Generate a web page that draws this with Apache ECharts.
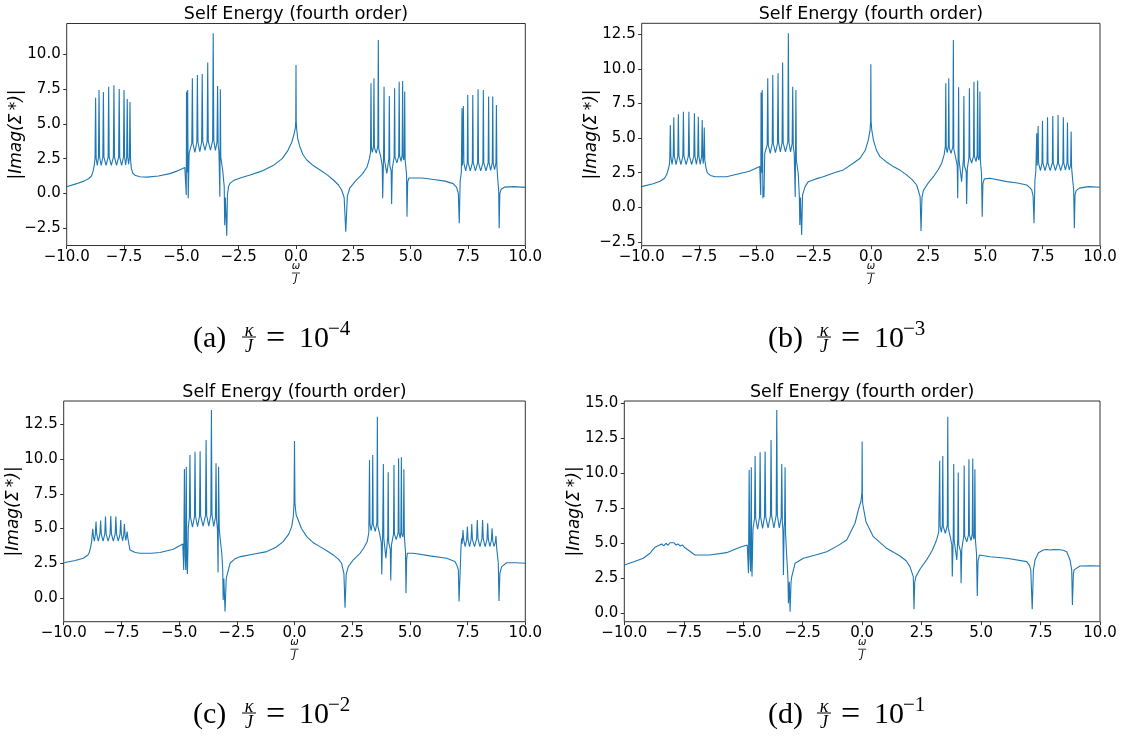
<!DOCTYPE html>
<html>
<head>
<meta charset="utf-8">
<script src="https://cdn.jsdelivr.net/npm/echarts@6/dist/echarts.min.js"></script>
<style>
html, body { margin: 0; padding: 0; background: #fff; }
#main { width: 1128px; height: 736px; }
</style>
</head>
<body>
<div id="main"></div>
<script>
// 四个子图共用的刻度
var xTicks = [-10, -7.5, -5, -2.5, 0, 2.5, 5, 7.5, 10];
var yTicksA = [-2.5, 0, 2.5, 5, 7.5, 10];
var yTicksB = [-2.5, 0, 2.5, 5, 7.5, 10, 12.5];
var yTicksC = [0, 2.5, 5, 7.5, 10, 12.5];
var yTicksD = [0, 2.5, 5, 7.5, 10, 12.5, 15];
var captionLetters = ['(a)', '(b)', '(c)', '(d)'];
var captionExps = ['\u22124', '\u22123', '\u22122', '\u22121'];
var titleText = 'Self Energy (fourth order)';

// (a) kappa/J = 1e-4 : [omega/J, |Imag(Sigma*)|]
var pointsA = [
    [-10, 0.48], [-9.6, 0.68], [-9.25, 0.88], [-9.05, 1.05], [-8.92, 1.25], [-8.85, 1.6], [-8.8, 2.0],
    [-8.765, 2.5], [-8.74, 6.89], [-8.715, 2.5], [-8.665, 2.02], [-8.615, 2.6], [-8.59, 7.45], [-8.565, 2.6],
    [-8.495, 2.02], [-8.425, 2.6], [-8.4, 7.3], [-8.375, 2.6], [-8.285, 2.02], [-8.195, 2.6], [-8.17, 7.69],
    [-8.145, 2.6], [-8.055, 2.02], [-7.965, 2.6], [-7.94, 7.79], [-7.915, 2.6], [-7.825, 2.02], [-7.735, 2.6],
    [-7.71, 7.52], [-7.685, 2.6], [-7.605, 2.02], [-7.525, 2.6], [-7.5, 7.45], [-7.475, 2.6], [-7.43, 2.05],
    [-7.385, 2.6], [-7.36, 6.8], [-7.335, 2.6], [-7.3, 2.1], [-7.265, 2.6], [-7.24, 6.58], [-7.215, 2.4],
    [-7.18, 1.8], [-7.12, 1.45], [-7.0, 1.28], [-6.8, 1.2], [-6.5, 1.17], [-6.0, 1.25], [-5.5, 1.42],
    [-5.2, 1.6], [-4.85, 1.87],
    [-4.8, 1.92], [-4.785, -0.12], [-4.775, 7.33], [-4.745, 1.5], [-4.725, 7.45], [-4.7, -0.36], [-4.66, 2.9],
    [-4.545, 3.6], [-4.52, 8.29], [-4.495, 3.6], [-4.41, 2.95], [-4.325, 3.7], [-4.3, 8.53], [-4.275, 3.7],
    [-4.195, 3.0], [-4.115, 3.7], [-4.09, 8.6], [-4.065, 3.75], [-3.97, 3.1], [-3.875, 3.75], [-3.85, 9.42],
    [-3.825, 3.75], [-3.73, 3.12], [-3.635, 3.8], [-3.61, 11.54], [-3.585, 3.8], [-3.515, 3.1], [-3.445, 3.7],
    [-3.42, 7.74], [-3.395, 3.5], [-3.36, 3.0], [-3.32, -0.24], [-3.3, 7.5], [-3.28, 2.6],
    [-3.2, 1.7], [-3.13, 0.48], [-3.11, -2.3], [-3.08, -0.3], [-3.02, -3.06], [-2.99, -0.1], [-2.94, 0.5],
    [-2.88, 0.72], [-2.7, 0.95], [-2.4, 1.12], [-2.0, 1.32], [-1.5, 1.6], [-1.0, 2.0], [-0.6, 2.5],
    [-0.35, 3.1], [-0.18, 3.7], [-0.08, 4.3], [-0.03, 4.7], [-0.01, 5.2], [0.0, 9.25], [0.01, 5.2],
    [0.03, 4.6], [0.08, 3.9], [0.17, 3.36], [0.3, 2.8], [0.47, 2.4], [0.75, 2.0], [1.05, 1.68], [1.35, 1.35],
    [1.63, 0.96], [1.85, 0.6], [1.99, 0.24], [2.1, -0.3], [2.17, -2.77], [2.24, -0.2], [2.35, 0.4],
    [2.6, 0.9], [2.9, 1.4], [3.1, 1.9], [3.2, 2.5], [3.25, 2.95],
    [3.27, 7.93], [3.29, 3.3], [3.33, 2.95], [3.38, 3.4], [3.4, 8.29], [3.42, 3.3], [3.5, 2.9], [3.57, 3.4],
    [3.59, 11.05], [3.61, 3.2], [3.7, 2.6], [3.76, 2.0], [3.78, -0.36], [3.82, 2.8], [3.84, 7.69], [3.86, 2.4],
    [3.96, 1.44], [4.05, 2.5], [4.07, 7.02], [4.09, 2.0], [4.15, 1.6], [4.17, -0.77], [4.2, 1.8], [4.28, 2.6],
    [4.3, 7.57], [4.32, 2.6], [4.4, 2.2], [4.48, 2.7], [4.5, 8.05], [4.52, 2.7], [4.58, 2.3], [4.63, 2.8],
    [4.65, 8.1], [4.67, 2.6], [4.7, 2.4], [4.72, 2.7], [4.74, 7.33], [4.76, 2.4], [4.82, 1.4], [4.84, -1.69],
    [4.87, 0.8], [4.92, 1.1], [5.0, 1.18],
    [5.5, 1.1], [6.0, 1.0], [6.5, 0.88], [6.85, 0.7], [7.0, 0.45], [7.08, 0.0], [7.12, -2.16], [7.16, 0.9],
    [7.21, 1.5],
    [7.24, 6.13], [7.26, 2.0], [7.28, 2.0], [7.3, 6.3], [7.32, 2.2], [7.4, 1.62], [7.47, 2.2], [7.49, 7.09],
    [7.51, 2.2], [7.6, 1.62], [7.69, 2.2], [7.71, 7.09], [7.73, 2.2], [7.825, 1.62], [7.92, 2.2], [7.94, 7.5],
    [7.96, 2.2], [8.055, 1.62], [8.15, 2.2], [8.17, 7.45], [8.19, 2.2], [8.285, 1.62], [8.38, 2.2], [8.4, 6.97],
    [8.42, 2.2], [8.49, 1.65], [8.56, 2.2], [8.58, 6.97], [8.6, 2.2], [8.66, 1.7], [8.72, 2.2], [8.74, 6.37],
    [8.76, 2.0], [8.8, 1.0], [8.84, 0.2], [8.86, -2.52], [8.89, 0.0], [8.95, 0.3], [9.1, 0.45], [9.5, 0.48],
    [10, 0.43]
];

// (b) kappa/J = 1e-3
var pointsB = [
    [-10, 1.49], [-9.5, 1.7], [-9.2, 1.88], [-9.0, 2.1], [-8.9, 2.4], [-8.83, 2.8], [-8.79, 3.1],
    [-8.775, 3.5], [-8.75, 5.95], [-8.725, 3.6], [-8.675, 3.1], [-8.625, 3.7], [-8.6, 6.5], [-8.575, 3.7],
    [-8.5, 3.08], [-8.425, 3.7], [-8.4, 6.72], [-8.375, 3.7], [-8.29, 3.08], [-8.205, 3.7], [-8.18, 6.9],
    [-8.155, 3.7], [-8.06, 3.08], [-7.965, 3.7], [-7.94, 6.9], [-7.915, 3.7], [-7.82, 3.08], [-7.725, 3.7],
    [-7.7, 6.8], [-7.675, 3.7], [-7.615, 3.1], [-7.555, 3.7], [-7.53, 6.55], [-7.505, 3.7], [-7.445, 3.1],
    [-7.385, 3.7], [-7.36, 6.31], [-7.335, 3.6], [-7.315, 3.15], [-7.295, 3.6], [-7.27, 5.76], [-7.245, 3.4],
    [-7.2, 2.9], [-7.14, 2.5], [-7.0, 2.3], [-6.8, 2.2], [-6.3, 2.2], [-5.8, 2.4], [-5.3, 2.6], [-4.85, 2.94],
    [-4.82, 2.98], [-4.805, 0.89], [-4.79, 8.29], [-4.765, 2.5], [-4.74, 8.48], [-4.71, 0.65], [-4.685, 1.5],
    [-4.665, 0.74], [-4.63, 3.9],
    [-4.525, 4.5], [-4.5, 9.33], [-4.475, 4.5], [-4.39, 3.9], [-4.305, 4.6], [-4.28, 9.57], [-4.255, 4.6],
    [-4.165, 3.95], [-4.075, 4.6], [-4.05, 9.69], [-4.025, 4.65], [-3.95, 4.0], [-3.875, 4.65], [-3.85, 10.46],
    [-3.825, 4.65], [-3.725, 4.0], [-3.625, 4.7], [-3.6, 12.58], [-3.575, 4.7], [-3.505, 4.0], [-3.435, 4.6],
    [-3.41, 8.72], [-3.385, 4.4], [-3.345, 3.9], [-3.3, 0.74], [-3.27, 8.48], [-3.25, 3.4],
    [-3.17, 2.46], [-3.12, 0.77], [-3.1, -1.28], [-3.07, 0.7], [-3.02, -2.0], [-2.98, 0.9], [-2.87, 1.49],
    [-2.73, 1.85], [-2.4, 2.05], [-2.08, 2.21], [-1.6, 2.5], [-1.2, 2.7], [-0.77, 3.18], [-0.47, 3.54],
    [-0.25, 4.1], [-0.12, 4.8], [-0.04, 5.5], [-0.01, 6.2], [0, 10.34], [0.01, 6.2], [0.04, 5.6], [0.11, 4.87],
    [0.25, 4.1], [0.4, 3.66], [0.7, 3.25], [0.98, 2.94], [1.3, 2.65], [1.56, 2.34], [1.8, 2.0], [2.0, 1.61],
    [2.15, 0.77], [2.19, -1.71], [2.23, 0.7], [2.29, 1.2], [2.5, 1.75], [2.73, 2.21], [2.95, 2.75],
    [3.09, 3.18], [3.2, 3.8], [3.25, 4.38],
    [3.27, 8.96], [3.29, 4.3], [3.335, 3.95], [3.38, 4.4], [3.4, 9.33], [3.42, 4.3], [3.5, 3.9], [3.58, 4.4],
    [3.6, 12.09], [3.62, 4.2], [3.7, 3.6], [3.77, 3.0], [3.79, 0.65], [3.81, 3.8], [3.83, 8.67], [3.85, 3.4],
    [3.96, 1.85], [4.04, 3.5], [4.06, 8.05], [4.08, 3.0], [4.16, 2.6], [4.18, 0.24], [4.21, 2.8], [4.28, 3.6],
    [4.3, 8.6], [4.32, 3.6], [4.4, 3.2], [4.48, 3.7], [4.5, 9.08], [4.52, 3.7], [4.59, 3.3], [4.64, 3.8],
    [4.66, 9.16], [4.68, 3.6], [4.71, 3.4], [4.74, 3.7], [4.76, 8.36], [4.78, 3.4], [4.83, 2.4], [4.86, -0.68],
    [4.89, 1.7], [4.95, 2.05], [5.2, 2.1], [5.93, 1.85], [6.4, 1.75], [6.8, 1.61], [6.95, 1.4], [7.02, 1.25],
    [7.08, 0.8], [7.12, -1.16], [7.16, 1.97], [7.2, 2.6],
    [7.24, 5.35], [7.26, 3.0], [7.28, 3.0], [7.3, 5.88], [7.32, 3.2], [7.4, 2.65], [7.47, 3.2], [7.49, 6.26],
    [7.51, 3.2], [7.6, 2.65], [7.69, 3.2], [7.71, 6.51], [7.73, 3.2], [7.825, 2.65], [7.92, 3.2], [7.94, 6.6],
    [7.96, 3.2], [8.055, 2.65], [8.15, 3.2], [8.17, 6.67], [8.19, 3.2], [8.285, 2.65], [8.38, 3.2], [8.4, 6.5],
    [8.42, 3.2], [8.49, 2.68], [8.56, 3.2], [8.58, 6.12], [8.6, 3.2], [8.66, 2.7], [8.72, 3.1], [8.74, 5.47],
    [8.76, 2.9], [8.8, 2.1], [8.85, 1.3], [8.88, -1.52], [8.91, 0.9], [8.96, 1.2], [9.1, 1.38], [9.5, 1.49],
    [10, 1.45]
];

// (c) kappa/J = 1e-2
var pointsC = [
    [-10, 2.54], [-9.5, 2.7], [-9.15, 2.86], [-8.95, 3.1], [-8.89, 3.27], [-8.83, 3.7], [-8.79, 4.06],
    [-8.77, 4.5], [-8.74, 4.99], [-8.71, 4.4], [-8.67, 4.1], [-8.63, 4.6], [-8.6, 5.5], [-8.57, 4.6],
    [-8.5, 4.1], [-8.43, 4.6], [-8.4, 5.57], [-8.37, 4.6], [-8.295, 4.1], [-8.22, 4.6], [-8.19, 5.86],
    [-8.16, 4.6], [-8.075, 4.1], [-7.99, 4.6], [-7.96, 5.9], [-7.93, 4.6], [-7.85, 4.1], [-7.77, 4.6],
    [-7.74, 5.86], [-7.71, 4.6], [-7.635, 4.1], [-7.56, 4.6], [-7.53, 5.62], [-7.5, 4.6], [-7.45, 4.12],
    [-7.4, 4.55], [-7.37, 5.33], [-7.34, 4.5], [-7.31, 4.15], [-7.28, 4.45], [-7.25, 4.78], [-7.22, 4.3],
    [-7.13, 3.46], [-6.9, 3.28], [-6.69, 3.22], [-6.2, 3.22], [-5.83, 3.27], [-5.25, 3.51], [-4.84, 3.89],
    [-4.81, 3.9], [-4.8, 2.02], [-4.77, 9.29], [-4.74, 3.0], [-4.71, 2.02], [-4.69, 9.46], [-4.665, 3.0],
    [-4.64, 1.73], [-4.6, 5.1],
    [-4.555, 5.8], [-4.53, 10.3], [-4.505, 5.8], [-4.42, 5.1], [-4.335, 5.85], [-4.31, 10.54], [-4.285, 5.85],
    [-4.2, 5.14], [-4.115, 5.9], [-4.09, 10.57], [-4.065, 5.9], [-3.96, 5.18], [-3.855, 5.95], [-3.83, 11.38],
    [-3.805, 5.95], [-3.715, 5.18], [-3.625, 6.0], [-3.6, 13.54], [-3.575, 6.0], [-3.5, 5.15], [-3.425, 5.8],
    [-3.4, 9.7], [-3.375, 5.6], [-3.34, 5.0], [-3.31, 1.83], [-3.29, 9.46], [-3.26, 5.0],
    [-3.23, 4.42], [-3.15, 3.2], [-3.11, 2.02], [-3.09, -0.14], [-3.06, 1.4], [-3.01, -0.98], [-2.96, 1.3],
    [-2.94, 1.54], [-2.79, 2.5], [-2.6, 2.8], [-2.34, 2.98], [-1.8, 3.15], [-1.2, 3.34], [-0.8, 3.65],
    [-0.49, 4.06], [-0.25, 4.6], [-0.12, 5.14], [-0.05, 5.9], [-0.02, 6.82], [0, 11.31], [0.02, 6.82],
    [0.07, 6.0], [0.16, 5.62], [0.3, 5.0], [0.53, 4.42], [0.8, 4.0], [1.1, 3.7], [1.4, 3.4], [1.68, 3.1],
    [1.9, 2.8], [2.04, 2.5], [2.14, 1.78], [2.19, -0.7], [2.24, 1.7], [2.33, 2.26], [2.55, 2.75], [2.84, 3.22],
    [3.0, 3.6], [3.15, 4.06], [3.22, 4.7],
    [3.25, 9.94], [3.27, 5.3], [3.32, 4.85], [3.37, 5.4], [3.39, 10.3], [3.41, 5.3], [3.5, 4.8], [3.57, 5.4],
    [3.59, 13.06], [3.61, 5.2], [3.69, 4.6], [3.76, 4.0], [3.78, 1.7], [3.82, 4.6], [3.85, 9.65], [3.87, 4.3],
    [3.96, 2.86], [4.04, 4.4], [4.06, 9.05], [4.08, 4.0], [4.15, 3.5], [4.17, 1.25], [4.2, 3.8], [4.29, 4.6],
    [4.31, 9.58], [4.33, 4.6], [4.41, 4.2], [4.49, 4.7], [4.51, 10.06], [4.53, 4.7], [4.58, 4.3], [4.61, 4.8],
    [4.63, 10.13], [4.65, 4.6], [4.69, 4.4], [4.72, 4.7], [4.74, 9.27], [4.76, 4.4], [4.81, 3.3], [4.83, 0.34],
    [4.86, 2.8], [4.89, 3.22], [5.15, 3.22], [5.87, 3.03], [6.59, 2.86], [6.95, 2.62], [7.05, 2.3], [7.1, 2.02],
    [7.13, -0.26], [7.18, 2.02], [7.21, 3.5],
    [7.24, 4.3], [7.265, 3.9], [7.3, 4.9], [7.33, 4.2], [7.395, 3.7], [7.46, 4.2], [7.49, 5.14], [7.52, 4.2],
    [7.585, 3.7], [7.65, 4.2], [7.68, 5.33], [7.71, 4.2], [7.8, 3.7], [7.89, 4.25], [7.92, 5.62], [7.95, 4.25],
    [8.035, 3.7], [8.12, 4.25], [8.15, 5.62], [8.18, 4.25], [8.26, 3.7], [8.34, 4.2], [8.37, 5.38], [8.4, 4.2],
    [8.465, 3.72], [8.53, 4.15], [8.56, 5.02], [8.59, 4.1], [8.645, 3.72], [8.7, 4.0], [8.73, 4.47], [8.76, 3.6],
    [8.8, 3.0], [8.83, 2.5], [8.86, -0.22], [8.9, 1.8], [8.98, 2.26], [9.19, 2.54], [9.6, 2.54], [10, 2.5]
];

// (d) kappa/J = 1e-1
var pointsD = [
    [-10, 3.45], [-9.6, 3.68], [-9.2, 3.93], [-8.92, 4.29], [-8.8, 4.55], [-8.71, 4.71], [-8.6, 4.8],
    [-8.52, 4.75], [-8.43, 4.95], [-8.34, 4.82], [-8.25, 5.0], [-8.16, 4.86], [-8.08, 5.04], [-8.0, 4.9],
    [-7.92, 5.04], [-7.83, 4.88], [-7.74, 4.95], [-7.65, 4.8], [-7.55, 4.88], [-7.48, 4.72], [-7.41, 4.71],
    [-7.3, 4.5], [-7.24, 4.4], [-7.03, 4.16], [-6.4, 4.16], [-5.7, 4.33], [-5.14, 4.71], [-4.83, 4.88],
    [-4.8, 4.9], [-4.78, 2.86], [-4.75, 10.24], [-4.72, 4.0], [-4.69, 2.98], [-4.66, 10.43], [-4.645, 4.0],
    [-4.63, 2.62], [-4.59, 6.0],
    [-4.525, 6.8], [-4.5, 11.24], [-4.475, 6.8], [-4.395, 6.0], [-4.315, 6.85], [-4.29, 11.5], [-4.265, 6.85],
    [-4.185, 6.07], [-4.105, 6.9], [-4.08, 11.55], [-4.055, 6.9], [-3.955, 6.1], [-3.855, 6.95], [-3.83, 12.38],
    [-3.805, 6.95], [-3.71, 6.1], [-3.615, 7.0], [-3.59, 14.52], [-3.565, 7.0], [-3.485, 6.1], [-3.405, 6.8],
    [-3.38, 10.66], [-3.355, 6.5], [-3.33, 5.9], [-3.31, 2.74], [-3.28, 6.2], [-3.26, 6.5], [-3.24, 10.43],
    [-3.22, 5.7],
    [-3.17, 4.04], [-3.12, 2.5], [-3.1, 0.71], [-3.06, 2.26], [-3.03, 0.11], [-2.99, 2.2], [-2.96, 2.61],
    [-2.82, 3.57], [-2.47, 3.93], [-2.0, 4.15], [-1.49, 4.4], [-1.0, 4.85], [-0.65, 5.24], [-0.3, 6.43],
    [-0.16, 7.38], [-0.05, 8.0], [-0.01, 8.6], [0, 12.26], [0.01, 8.5], [0.02, 7.86], [0.16, 6.54],
    [0.47, 5.47], [1.03, 4.64], [1.59, 4.09], [1.85, 3.75], [2.01, 3.33], [2.15, 2.62], [2.18, 0.29],
    [2.21, 2.2], [2.26, 2.62], [2.45, 3.2], [2.71, 3.81], [2.95, 4.5], [3.13, 5.24], [3.22, 5.8],
    [3.26, 10.9], [3.28, 6.2], [3.33, 5.8], [3.37, 6.3], [3.39, 11.24], [3.41, 6.2], [3.5, 5.7], [3.58, 6.3],
    [3.6, 14.04], [3.62, 6.1], [3.7, 5.5], [3.77, 4.9], [3.79, 2.62], [3.83, 5.5], [3.85, 10.66], [3.87, 5.2],
    [3.98, 3.81], [4.02, 5.3], [4.04, 10.05], [4.06, 4.9], [4.14, 4.4], [4.16, 2.14], [4.19, 4.6], [4.27, 5.5],
    [4.29, 10.55], [4.31, 5.5], [4.4, 5.1], [4.47, 5.6], [4.49, 11.0], [4.51, 5.6], [4.58, 5.2], [4.63, 5.7],
    [4.65, 11.05], [4.67, 5.5], [4.7, 5.3], [4.72, 5.6], [4.74, 10.29], [4.76, 5.3], [4.81, 4.2], [4.84, 1.24],
    [4.87, 3.7], [4.93, 4.16], [5.38, 4.04], [6.08, 3.93], [6.92, 3.69], [7.04, 3.4], [7.09, 3.1],
    [7.15, 0.29], [7.2, 3.1], [7.27, 3.81], [7.41, 4.33], [7.62, 4.52], [7.76, 4.56], [7.83, 4.62],
    [7.9, 4.52], [7.97, 4.65], [8.04, 4.55], [8.11, 4.66], [8.18, 4.56], [8.25, 4.64], [8.32, 4.54],
    [8.39, 4.6], [8.46, 4.5], [8.6, 4.4], [8.74, 3.81], [8.81, 3.1], [8.84, 0.59], [8.88, 2.8], [8.91, 3.1],
    [9.16, 3.38], [9.6, 3.4], [10, 3.38]
];

var chart = echarts.init(document.getElementById('main'));

var tickFont = 'DejaVu Sans';
function fmt(v) {
    return v.toFixed(1).replace('-', '\u2212');
}

// 子图布局 (像素)
var panels = [
    { left: 66.7, top: 23.5, width: 458.6, height: 222, ymin: -3.76, ymax: 12.24, ticks: yTicksA, data: pointsA, capX: 193, capY: 339 },
    { left: 641.7, top: 23.3, width: 458.3, height: 222.4, ymin: -2.78, ymax: 13.3, ticks: yTicksB, data: pointsB, capX: 768, capY: 339 },
    { left: 63.7, top: 401, width: 461.6, height: 220.7, ymin: -1.71, ymax: 14.19, ticks: yTicksC, data: pointsC, capX: 193, capY: 715 },
    { left: 624.3, top: 401, width: 475.7, height: 220.7, ymin: -0.6, ymax: 15.16, ticks: yTicksD, data: pointsD, capX: 768, capY: 715 }
];

var grids = [], xAxes = [], yAxes = [], series = [], graphics = [];

panels.forEach(function (p, i) {
    grids.push({
        left: p.left, top: p.top, width: p.width, height: p.height,
        show: true, borderColor: '#333', borderWidth: 1, backgroundColor: 'transparent'
    });
    xAxes.push({
        type: 'value', gridIndex: i, min: -10, max: 10,
        axisLine: { show: false, onZero: false },
        splitLine: { show: false },
        axisTick: { show: true, length: 3.5, customValues: xTicks, lineStyle: { color: '#333' } },
        axisLabel: { customValues: xTicks, formatter: fmt, fontSize: 15, fontFamily: tickFont, color: '#000', margin: 4 }
    });
    yAxes.push({
        type: 'value', gridIndex: i, min: p.ymin, max: p.ymax,
        axisLine: { show: false, onZero: false },
        splitLine: { show: false },
        axisTick: { show: true, length: 3.5, customValues: p.ticks, lineStyle: { color: '#333' } },
        axisLabel: { customValues: p.ticks, formatter: fmt, fontSize: 15, fontFamily: tickFont, color: '#000', margin: 6 }
    });
    series.push({
        type: 'line', xAxisIndex: i, yAxisIndex: i,
        data: p.data, showSymbol: false, symbol: 'none',
        lineStyle: { color: '#1f77b4', width: 1.1 },
        animation: false
    });

    var cx = p.left + p.width / 2;
    var bottom = p.top + p.height;
    // 标题
    graphics.push({
        type: 'text', x: cx, y: p.top - 9,
        style: { text: titleText, fontSize: 17.5, fontFamily: tickFont, fill: '#000', align: 'center', verticalAlign: 'middle', textAlign: 'center', textVerticalAlign: 'middle' }
    });
    // y 轴名称
    graphics.push({
        type: 'text', x: p.left - 50, y: p.top + p.height / 2, rotation: Math.PI / 2,
        style: { text: '|Imag(\u03a3\u2009*)|', fontSize: 17, fontStyle: 'italic', fontFamily: tickFont, fill: '#000', align: 'center', verticalAlign: 'middle', textAlign: 'center', textVerticalAlign: 'middle' }
    });
    // x 轴名称 omega / J
    graphics.push({
        type: 'text', x: cx, y: bottom + 21,
        style: { text: '\u03c9', fontSize: 10, fontStyle: 'italic', fontFamily: tickFont, fill: '#000', align: 'center', verticalAlign: 'middle', textAlign: 'center', textVerticalAlign: 'middle' }
    });
    graphics.push({
        type: 'line', shape: { x1: cx - 4, y1: bottom + 27.5, x2: cx + 4, y2: bottom + 27.5 },
        style: { stroke: '#000', lineWidth: 0.8 }
    });
    graphics.push({
        type: 'text', x: cx, y: bottom + 34,
        style: { text: 'J', fontSize: 10, fontStyle: 'italic', fontFamily: tickFont, fill: '#000', align: 'center', verticalAlign: 'middle', textAlign: 'center', textVerticalAlign: 'middle' }
    });

    // 子图说明  (a) kappa/J = 10^-4
    var capFont = 'Liberation Serif';
    var x0 = p.capX, y0 = p.capY;
    graphics.push({
        type: 'text', x: x0, y: y0,
        style: { text: captionLetters[i], fontSize: 30, fontFamily: capFont, fill: '#000', align: 'left', verticalAlign: 'middle', textAlign: 'left', textVerticalAlign: 'middle' }
    });
    graphics.push({
        type: 'text', x: x0 + 56, y: y0 - 8,
        style: { text: '\u03ba', fontSize: 18, fontStyle: 'italic', fontFamily: capFont, fill: '#000', align: 'center', verticalAlign: 'middle', textAlign: 'center', textVerticalAlign: 'middle' }
    });
    graphics.push({
        type: 'line', shape: { x1: x0 + 49, y1: y0 - 2, x2: x0 + 63, y2: y0 - 2 },
        style: { stroke: '#000', lineWidth: 1 }
    });
    graphics.push({
        type: 'text', x: x0 + 56, y: y0 + 8,
        style: { text: 'J', fontSize: 18, fontStyle: 'italic', fontFamily: capFont, fill: '#000', align: 'center', verticalAlign: 'middle', textAlign: 'center', textVerticalAlign: 'middle' }
    });
    graphics.push({
        type: 'text', x: x0 + 73, y: y0,
        style: { text: '=', fontSize: 34, fontFamily: capFont, fill: '#000', align: 'left', verticalAlign: 'middle', textAlign: 'left', textVerticalAlign: 'middle' }
    });
    graphics.push({
        type: 'text', x: x0 + 106, y: y0,
        style: { text: '10', fontSize: 30, fontFamily: capFont, fill: '#000', align: 'left', verticalAlign: 'middle', textAlign: 'left', textVerticalAlign: 'middle' }
    });
    graphics.push({
        type: 'text', x: x0 + 135, y: y0 - 10,
        style: { text: captionExps[i], fontSize: 21, fontFamily: capFont, fill: '#000', align: 'left', verticalAlign: 'middle', textAlign: 'left', textVerticalAlign: 'middle' }
    });
});

var option = {
    backgroundColor: '#fff',
    animation: false,
    grid: grids,
    xAxis: xAxes,
    yAxis: yAxes,
    series: series,
    graphic: { elements: graphics }
};

chart.setOption(option);
</script>
</body>
</html>
